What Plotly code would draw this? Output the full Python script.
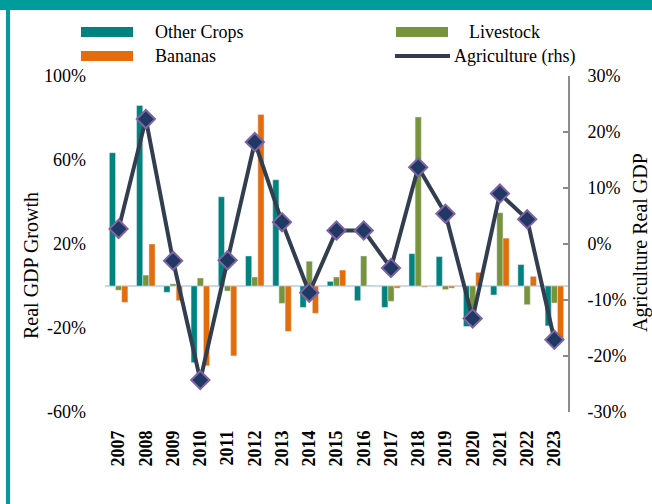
import plotly.graph_objects as go

years = [str(y) for y in range(2007, 2024)]
other_crops = [63.5, 86, -3, -36.5, 42.5, 14.3, 50.6, -10.2, 2.2, -7, -10.2, 15.4, 14, -19.3, -4.3, 10.2, -19]
livestock = [-2, 5.2, 1, 3.8, -2.4, 4.3, -8.3, 11.8, 4.3, 14.3, -7.3, 80.5, -1.7, -12.5, 34.9, -8.9, -8.1]
bananas = [-7.8, 20, -7, -38, -33.3, 81.7, -21.6, -13, 7.6, 0.3, -1, -0.5, -1, 6.5, 22.8, 4.6, -25.6]
agriculture = [2.7, 22.3, -3.0, -24.3, -2.9, 18.2, 3.9, -8.7, 2.4, 2.4, -4.3, 13.7, 5.4, -13.3, 9.0, 4.4, -17.1]

left_ticks = [-60, -20, 20, 60, 100]
left_labels = ["-60%", "-20%", "20%", "60%", "100%"]
right_ticks = [-30, -20, -10, 0, 10, 20, 30]
right_labels = ["-30%", "-20%", "-10%", "0%", "10%", "20%", "30%"]

C_TEAL = "#00827F"
C_GREEN = "#77933C"
C_ORANGE = "#E46C0A"
C_LINE = "#323E4F"
C_FRAME = "#009B9B"
FONT = "Liberation Serif"

W, H = 652, 504
L, R, T, B = 105, 84, 76, 92
PW, PH = W - L - R, H - T - B

def px(x):
    return (x - L) / PW

def py(y):
    return (H - B - y) / PH

fig = go.Figure()
fig.add_trace(go.Bar(x=years, y=other_crops, name="Other Crops", marker_color=C_TEAL))
fig.add_trace(go.Bar(x=years, y=livestock, name="Livestock", marker_color=C_GREEN))
fig.add_trace(go.Bar(x=years, y=bananas, name="Bananas", marker_color=C_ORANGE))
fig.add_trace(go.Scatter(
    x=years, y=agriculture, name="Agriculture (rhs)", yaxis="y2",
    mode="lines+markers",
    line=dict(color=C_LINE, width=4),
    marker=dict(symbol="diamond", size=14, color="#1F3864",
                line=dict(color="#8064A2", width=2)),
))

shapes = []
# frame
shapes.append(dict(type="rect", xref="paper", yref="paper", x0=px(0), x1=px(W), y0=py(10), y1=py(0),
                   fillcolor=C_FRAME, line=dict(width=0), layer="above"))
shapes.append(dict(type="rect", xref="paper", yref="paper", x0=px(6), x1=px(10), y0=py(H), y1=py(10),
                   fillcolor=C_FRAME, line=dict(width=0), layer="above"))
# legend swatches
for (x0, x1, y0, y1, col) in [(81, 133, 27, 37, C_TEAL), (81, 133, 51, 61, C_ORANGE), (396, 448, 27, 37, C_GREEN)]:
    shapes.append(dict(type="rect", xref="paper", yref="paper", x0=px(x0), x1=px(x1), y0=py(y1), y1=py(y0),
                       fillcolor=col, line=dict(width=0)))
shapes.append(dict(type="line", xref="paper", yref="paper", x0=px(395), x1=px(450), y0=py(56), y1=py(56),
                   line=dict(color=C_LINE, width=4)))

annotations = []
for (x, y, t) in [(153, 32, "Other Crops"), (153, 56, "Bananas"), (467, 32, "Livestock"), (452, 56, "Agriculture (rhs)")]:
    annotations.append(dict(xref="paper", yref="paper", x=px(x), y=py(y), text=t, showarrow=False,
                            xanchor="left", yanchor="middle", font=dict(family=FONT, size=18, color="black")))
annotations.append(dict(xref="paper", yref="paper", x=px(31), y=py(266), text="Real GDP Growth", textangle=-90,
                        showarrow=False, xanchor="center", yanchor="middle",
                        font=dict(family=FONT, size=20, color="black")))
annotations.append(dict(xref="paper", yref="paper", x=px(640), y=py(243), text="Agriculture Real GDP", textangle=-90,
                        showarrow=False, xanchor="center", yanchor="middle",
                        font=dict(family=FONT, size=20, color="black")))

# legend diamond marker
fig.add_trace(go.Scatter(x=[px(422)], y=[py(56)], xaxis="x2", yaxis="y3", mode="markers", showlegend=False,
                         hoverinfo="skip", cliponaxis=False,
                         marker=dict(symbol="diamond", size=12, color="#1F3864", line=dict(color="#8064A2", width=2))))

fig.update_layout(
    width=W, height=H,
    margin=dict(l=L, r=R, t=T, b=B),
    paper_bgcolor="white", plot_bgcolor="white",
    barmode="group", bargap=0.32, bargroupgap=0,
    showlegend=False,
    font=dict(family=FONT, size=18, color="black"),
    xaxis=dict(type="category", range=[-0.5, len(years) - 0.5], tickangle=-90, showgrid=False,
               showline=False, ticks="",
               tickfont=dict(family=FONT, size=18, color="black", weight="bold"), ticklabelstandoff=14),
    yaxis=dict(range=[-60, 100], tickvals=left_ticks, ticktext=left_labels, showgrid=False,
               showline=False, zeroline=True, zerolinecolor="#C6D9F1", zerolinewidth=2,
               ticks="", ticklabelstandoff=18, tickfont=dict(family=FONT, size=18, color="black")),
    yaxis2=dict(range=[-30, 30], tickvals=right_ticks, ticktext=right_labels, overlaying="y", side="right",
                showgrid=False, zeroline=False, showline=True, linecolor="#8C8C8C", linewidth=2,
                ticks="inside", ticklen=5, tickcolor="#8C8C8C", tickwidth=2, ticklabelstandoff=14,
                tickfont=dict(family=FONT, size=18, color="black")),
    xaxis2=dict(range=[0, 1], overlaying="x", visible=False, anchor="y3"),
    yaxis3=dict(range=[0, 1], overlaying="y", visible=False, anchor="x2"),
    shapes=shapes,
    annotations=annotations,
)

fig.write_html("out.html", config={"displayModeBar": False},
               post_script="document.body.style.margin='0';document.body.style.padding='0';")
